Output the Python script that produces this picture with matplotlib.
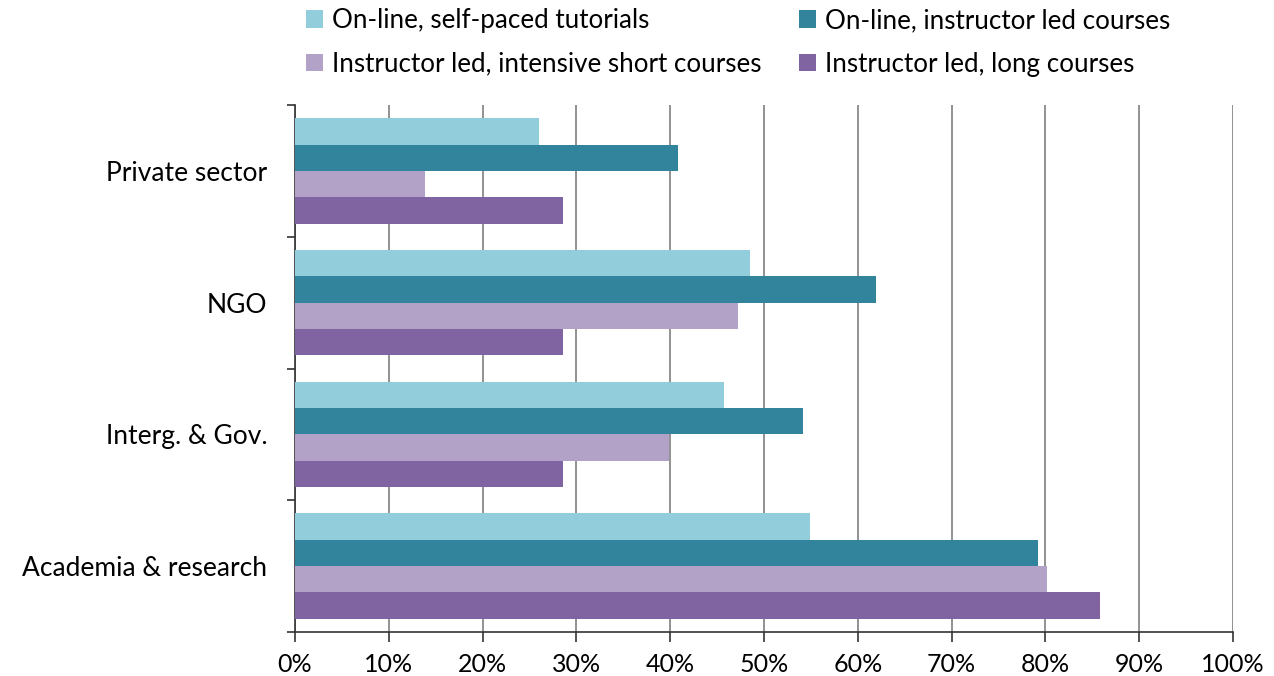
import matplotlib.pyplot as plt
import numpy as np

plt.rcParams['font.family'] = ['Lato', 'DejaVu Sans']

sectors = ["Private sector", "NGO", "Interg. & Gov.", "Academia & research"]
series_names = ["On-line, self-paced tutorials", "On-line, instructor led courses",
                "Instructor led, intensive short courses", "Instructor led, long courses"]
colors = ["#92CDDC", "#31849B", "#B2A2C7", "#8064A2"]

self_paced = [26.0, 48.5, 45.7, 54.9]
online_led = [40.8, 61.9, 54.2, 79.2]
short_courses = [13.9, 47.2, 39.9, 80.2]
long_courses = [28.6, 28.6, 28.6, 85.8]
values = [self_paced, online_led, short_courses, long_courses]

fig = plt.figure(figsize=(12.74, 6.76), dpi=100)
ax = fig.add_axes([295 / 1274, 44 / 676, 938 / 1274, 527 / 676])

y = np.arange(len(sectors))
h = 0.2
offsets = [-0.3, -0.1, 0.1, 0.3]
bars = []
for vals, off, c, name in zip(values, offsets, colors, series_names):
    bars.append(ax.barh(y + off, vals, height=h, color=c, label=name, zorder=3))

ax.set_xlim(0, 100)
ax.set_ylim(3.5, -0.5)
ax.set_xticks(np.arange(0, 101, 10))
ax.set_xticklabels([f"{v}%" for v in range(0, 101, 10)], fontsize=18)
ax.set_yticks(y)
ax.set_yticklabels(sectors, fontsize=19)
ax.set_yticks(np.arange(-0.5, 3.6, 1), minor=True)
ax.tick_params(axis='y', which='major', length=0, pad=20)
ax.tick_params(axis='y', which='minor', length=6, width=1.2, color='#333333', direction='out')
ax.tick_params(axis='x', length=7, width=1.2, color='#333333', direction='out', pad=8)

ax.grid(axis='x', color='#7f7f7f', linewidth=1.2, zorder=0)
for side in ['top', 'right']:
    ax.spines[side].set_visible(False)
for side in ['left', 'bottom']:
    ax.spines[side].set_color('#333333')
    ax.spines[side].set_linewidth(1.2)

# legend fills column-wise, so order handles to read row by row
order = [0, 2, 1, 3]
fig.legend([bars[i] for i in order], [series_names[i] for i in order],
           loc='upper left', bbox_to_anchor=(306 / 1274, 1 - 8 / 676), ncol=2, frameon=False,
           borderpad=0, borderaxespad=0,
           fontsize=18.7, handlelength=0.65, handleheight=0.65, handletextpad=0.35,
           columnspacing=1.45, labelspacing=0.72)

fig.savefig("out.png", dpi=100)
